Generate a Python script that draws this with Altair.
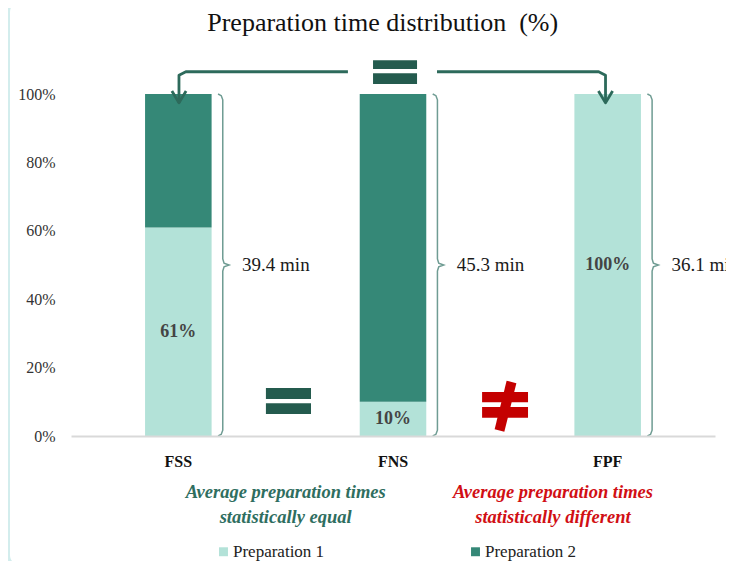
import altair as alt
import pandas as pd

# ---- data ----
categories = ["FSS", "FNS", "FPF"]
prep1 = [61, 10, 100]
prep2 = [39, 90, 0]
minutes = ["39.4 min", "45.3 min", "36.1 min"]
series = ["Preparation 1", "Preparation 2"]
caption_equal = ["Average preparation times", "statistically equal"]
caption_diff = ["Average preparation times", "statistically different"]
title_text = "Preparation time distribution\u00a0 (%)"

FONT = "Liberation Serif"
LIGHT = "#b3e2d8"
DARK = "#358877"
EQ = "#245b4e"
RED = "#c40000"
ARROW = "#2d6a5b"
BRACE = "#6f9c93"

rows = []
for i, c in enumerate(categories):
    rows.append({"cat": c, "series": series[0], "value": prep1[i], "ord": 0})
    rows.append({"cat": c, "series": series[1], "value": prep2[i], "ord": 1})
bars_df = pd.DataFrame(rows)

labels_df = pd.DataFrame({"cat": categories, "mid": [v / 2 for v in prep1],
                          "txt": [f"{v}%" for v in prep1]})

centers = [i + 0.5 for i in range(len(categories))]

# braces
brace_shape = [(0.185, 100), (0.200, 99.5), (0.207, 98.3), (0.207, 51.8), (0.213, 50.5),
               (0.236, 50), (0.213, 49.5), (0.207, 48.2), (0.207, 1.7), (0.200, 0.5), (0.185, 0)]
brace_rows = []
for i, c in enumerate(centers):
    for k, (dx, y) in enumerate(brace_shape):
        brace_rows.append({"x": c + dx, "y": y, "g": i, "k": k})
brace_df = pd.DataFrame(brace_rows)

min_df = pd.DataFrame({"x": [c + 0.297 for c in centers], "y": [50] * 3, "t": minutes})

# arrows
hy = 106.5
arrow_rows = []
paths = [
    [(1.290, hy), (0.535, hy), (0.503, hy - 1.0), (0.503, 97.4)],
    [(1.705, hy), (2.458, hy), (2.49, hy - 1.0), (2.49, 97.4)],
    [(0.503 - 0.033, 100.9), (0.503, 97.4), (0.503 + 0.033, 100.9)],
    [(2.49 - 0.033, 100.9), (2.49, 97.4), (2.49 + 0.033, 100.9)],
]
for g, p in enumerate(paths):
    for k, (x, y) in enumerate(p):
        arrow_rows.append({"x": x, "y": y, "g": g, "k": k})
arrow_df = pd.DataFrame(arrow_rows)

# equal / not-equal signs
rect_df = pd.DataFrame([
    {"x": 1.407, "x2": 1.612, "y": 107.3, "y2": 109.9, "c": EQ},
    {"x": 1.407, "x2": 1.612, "y": 102.9, "y2": 106.1, "c": EQ},
    {"x": 0.908, "x2": 1.118, "y": 10.8, "y2": 14.0, "c": EQ},
    {"x": 0.908, "x2": 1.118, "y": 6.4, "y2": 9.6, "c": EQ},
    {"x": 1.915, "x2": 2.129, "y": 9.9, "y2": 12.9, "c": RED},
    {"x": 1.915, "x2": 2.129, "y": 5.3, "y2": 8.5, "c": RED},
])
slash_df = pd.DataFrame([{"x": 2.052, "x2": 1.996, "y": 15.8, "y2": 1.6}])

cap_df = pd.DataFrame({
    "x": [1.0, 1.0, 2.245, 2.245],
    "y": [-16.3, -23.6, -16.3, -23.6],
    "t": caption_equal + caption_diff,
    "c": ["#2f6e5f", "#2f6e5f", "#d10f14", "#d10f14"],
})
title_df = pd.DataFrame({"x": [1.452], "y": [120.8], "t": [title_text]})

xq = alt.Scale(domain=[0, 3], nice=False, zero=False)
yq = alt.Scale(domain=[0, 100], nice=False, zero=False)
xband = alt.Scale(paddingInner=0.69, paddingOuter=0.345)

panel = alt.Chart(pd.DataFrame({"a": [0]})).mark_rect(
    fill="white", cornerRadius=10
).encode(x=alt.value(-61), x2=alt.value(700), y=alt.value(-92), y2=alt.value(471))

bars = alt.Chart(bars_df).mark_bar().encode(
    x=alt.X("cat:N", sort=categories, title=None, scale=xband,
            axis=alt.Axis(labelAngle=0, ticks=False, domainColor="#d9d9d9", domainWidth=2,
                          labelFont=FONT, labelFontSize=16, labelFontWeight="bold",
                          labelColor="#111111", labelPadding=17, zindex=1)),
    y=alt.Y("value:Q", stack="zero", title=None, scale=yq,
            axis=alt.Axis(values=[0, 20, 40, 60, 80, 100], labelExpr="datum.value + '%'",
                          grid=False, ticks=False, domain=False, labelFont=FONT,
                          labelFontSize=16, labelColor="#333333", labelPadding=16, zindex=1)),
    color=alt.Color("series:N", sort=series,
                    scale=alt.Scale(domain=series, range=[LIGHT, DARK]),
                    legend=alt.Legend(title=None, orient="none", legendX=144, legendY=449,
                                      direction="horizontal", symbolType="square",
                                      symbolSize=80, symbolStrokeWidth=0, labelFont=FONT,
                                      labelFontSize=17, labelColor="#222222",
                                      columnPadding=142, labelOffset=1)),
    order=alt.Order("ord:Q", sort="ascending"),
)

bar_labels = alt.Chart(labels_df).mark_text(
    font=FONT, fontSize=18, fontWeight="bold", color="#444444", baseline="middle"
).encode(x=alt.X("cat:N", sort=categories, scale=xband, axis=None),
         y=alt.Y("mid:Q", scale=yq, axis=None), text="txt:N")

braces = alt.Chart(brace_df).mark_line(color=BRACE, strokeWidth=1.5).encode(
    x=alt.X("x:Q", scale=xq, axis=None), y=alt.Y("y:Q", scale=yq, axis=None),
    detail="g:N", order="k:Q")

min_text = alt.Chart(min_df).mark_text(
    font=FONT, fontSize=19, color="#1a1a1a", align="left", baseline="middle"
).encode(x=alt.X("x:Q", scale=xq, axis=None), y=alt.Y("y:Q", scale=yq, axis=None), text="t:N")

arrows = alt.Chart(arrow_df).mark_line(color=ARROW, strokeWidth=2.8, strokeJoin="round").encode(
    x=alt.X("x:Q", scale=xq, axis=None), y=alt.Y("y:Q", scale=yq, axis=None),
    detail="g:N", order="k:Q")

rects = alt.Chart(rect_df).mark_rect().encode(
    x=alt.X("x:Q", scale=xq, axis=None), x2="x2:Q",
    y=alt.Y("y:Q", scale=yq, axis=None), y2="y2:Q",
    color=alt.Color("c:N", scale=None))

slash = alt.Chart(slash_df).mark_rule(color=RED, strokeWidth=10, strokeCap="butt").encode(
    x=alt.X("x:Q", scale=xq, axis=None), x2="x2:Q",
    y=alt.Y("y:Q", scale=yq, axis=None), y2="y2:Q")

captions = alt.Chart(cap_df).mark_text(
    font=FONT, fontSize=18.5, fontWeight="bold", fontStyle="italic", align="center", baseline="middle"
).encode(x=alt.X("x:Q", scale=xq, axis=None), y=alt.Y("y:Q", scale=yq, axis=None),
         text="t:N", color=alt.Color("c:N", scale=None))

title = alt.Chart(title_df).mark_text(
    font=FONT, fontSize=26, color="#111111", align="center", baseline="middle"
).encode(x=alt.X("x:Q", scale=xq, axis=None), y=alt.Y("y:Q", scale=yq, axis=None), text="t:N")

chart = alt.layer(
    panel, bars, bar_labels, braces, min_text, arrows, rects, slash, captions, title
).resolve_scale(x="independent", y="independent").properties(
    width=644, height=342,
    padding={"left": 63, "top": 86, "right": 11, "bottom": 125},
    autosize=alt.AutoSizeParams(type="none"),
    background="#d3eded",
).configure_view(stroke=None)

chart.save("out.html", embed_options={"renderer": "svg", "actions": False})
